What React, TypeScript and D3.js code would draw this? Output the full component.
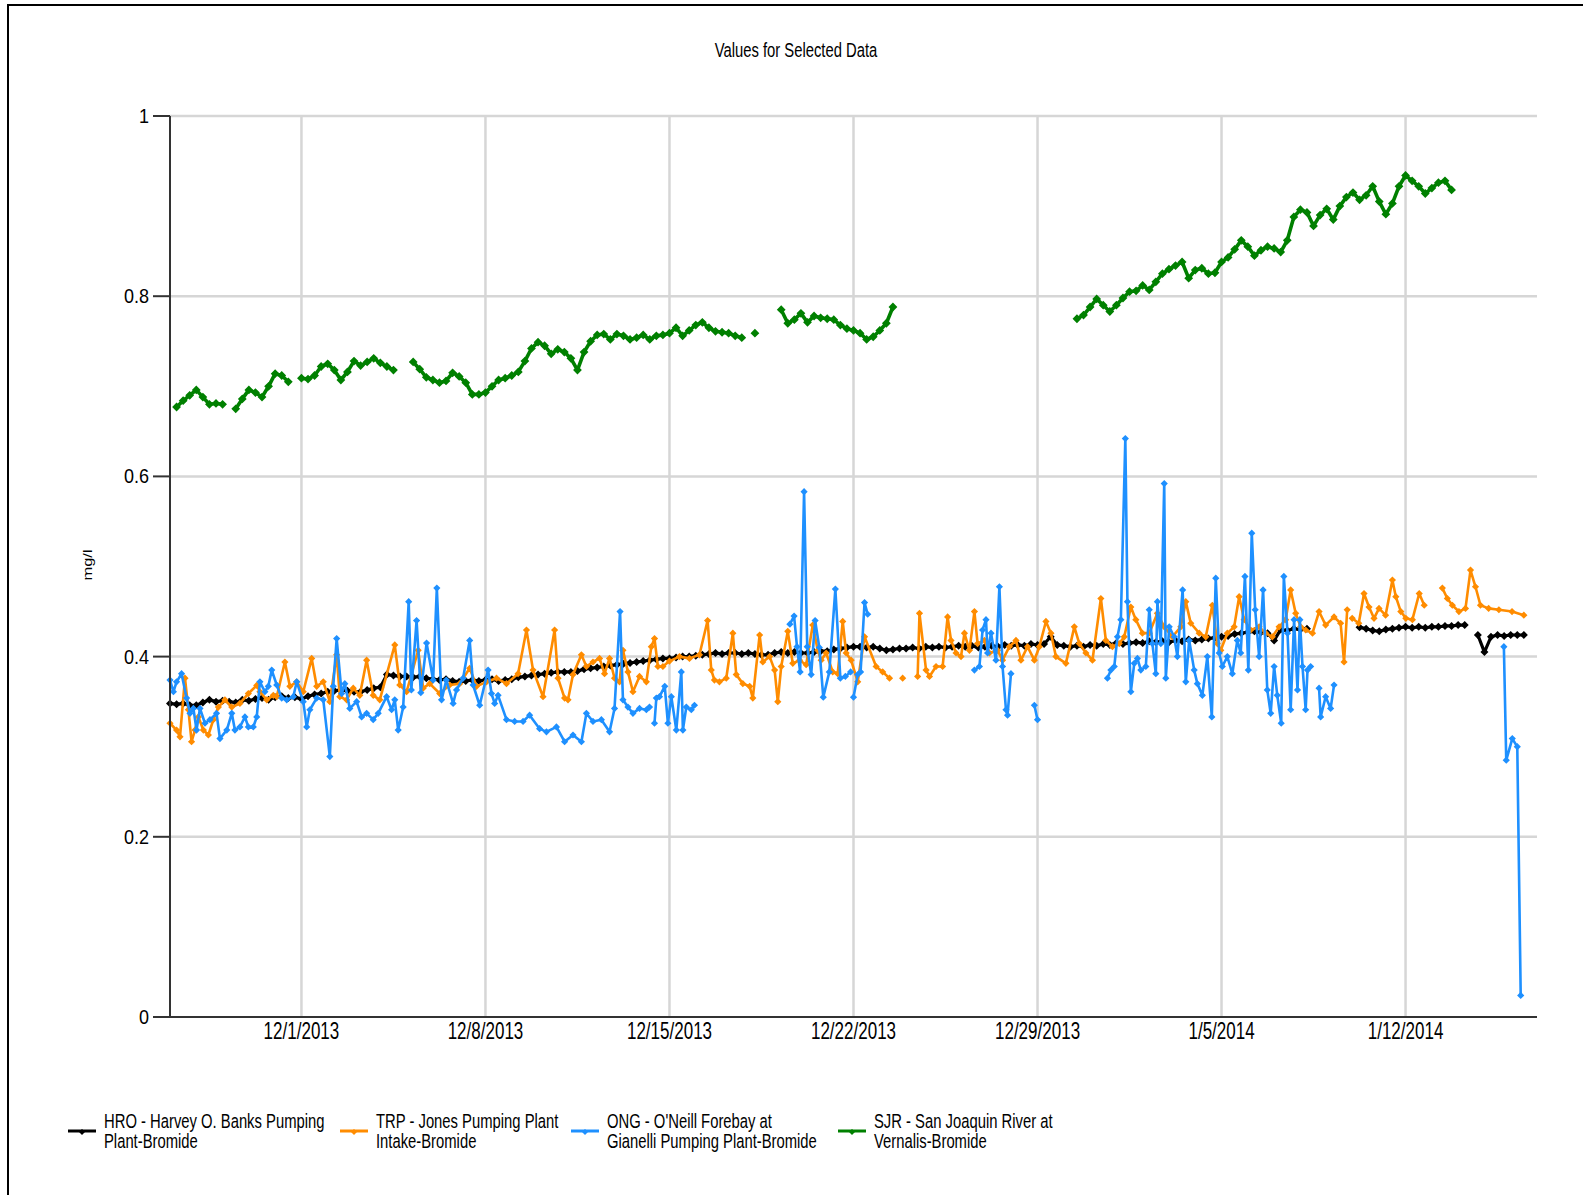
import React from "react";
import * as d3 from "d3";

// ---------------- data ----------------
const periodStart = new Date(2013, 10, 26);
const periodEnd = new Date(2014, 0, 17);
const STEP = 0.25; // days between readings for the regular series

const chartTitle = "Values for Selected Data";
const yAxisTitle = "mg/l";
const seriesNames: string[][] = [
  ["HRO - Harvey O. Banks Pumping", "Plant-Bromide"],
  ["TRP - Jones Pumping Plant", "Intake-Bromide"],
  ["ONG - O'Neill Forebay at", "Gianelli Pumping Plant-Bromide"],
  ["SJR - San Joaquin River at", "Vernalis-Bromide"],
];
const seriesColors = ["#000000", "#FF8C00", "#1E90FF", "#008000"];
const yTicks = [0, 0.2, 0.4, 0.6, 0.8, 1];
const yTickLabels = ["0", "0.2", "0.4", "0.6", "0.8", "1"];

// HRO (black), regular readings, [startDay, values]
const hroSeg1: number[] = [
  0.348, 0.347, 0.348, 0.346, 0.346,
  0.349, 0.352, 0.35, 0.351,
  0.35, 0.349, 0.352, 0.351,
  0.353, 0.354, 0.352, 0.355,
  0.356, 0.354, 0.355, 0.353,
  0.356, 0.358, 0.359, 0.361,
  0.362, 0.363, 0.362, 0.361,
  0.361, 0.363, 0.365, 0.366,
  0.38, 0.379, 0.378, 0.378,
  0.377, 0.378, 0.376, 0.375,
  0.374, 0.375, 0.373, 0.372,
  0.373, 0.374, 0.373, 0.374,
  0.375, 0.373, 0.374, 0.375,
  0.377, 0.378, 0.379, 0.38,
  0.381, 0.382, 0.383, 0.383,
  0.383, 0.384, 0.386, 0.387,
  0.388, 0.389, 0.39, 0.391,
  0.392, 0.393, 0.394, 0.395,
  0.396, 0.397, 0.398, 0.398,
  0.399, 0.4, 0.4, 0.401,
  0.402, 0.403, 0.404, 0.403,
  0.404, 0.404, 0.403, 0.404,
  0.403, 0.402, 0.402, 0.404,
  0.405, 0.404, 0.405, 0.404,
  0.404, 0.405, 0.406, 0.406,
  0.408, 0.409, 0.41, 0.411,
  0.411, 0.41, 0.411, 0.409,
  0.407, 0.408, 0.409, 0.409,
  0.41, 0.409, 0.411, 0.41,
  0.411, 0.41, 0.411, 0.412,
  0.411, 0.412, 0.41, 0.411,
  0.412, 0.411, 0.413, 0.412,
  0.413, 0.412, 0.414, 0.413,
  0.414, 0.422, 0.413, 0.412,
  0.411, 0.412, 0.411, 0.413,
  0.412, 0.414, 0.413, 0.415,
  0.414, 0.415, 0.416, 0.415,
  0.417, 0.416, 0.417, 0.416,
  0.418, 0.417, 0.419, 0.418,
  0.419, 0.42, 0.421, 0.422,
  0.423, 0.425, 0.426, 0.427,
  0.428, 0.427, 0.426, 0.418,
  0.43, 0.429, 0.431, 0.43,
  0.431,
];
const hroSeg2: number[] = [
  0.4325, 0.431, 0.429, 0.428, 0.43, 0.431, 0.432, 0.433, 0.432, 0.433, 0.432, 0.433,
  0.433, 0.434, 0.434, 0.435, 0.435,
];
const hroSeg3: number[] = [0.424, 0.405, 0.422, 0.424, 0.423, 0.424, 0.424, 0.424];
const hroSegments: [number, number[]][] = [[0, hroSeg1], [45.25, hroSeg2], [49.75, hroSeg3]];

// SJR (green), regular readings
const sjrSegA = [0.677, 0.684, 0.69, 0.696, 0.688, 0.68, 0.681, 0.68];
const sjrSegB = [0.675, 0.686, 0.696, 0.693, 0.688, 0.7, 0.714, 0.712, 0.705];
const sjrSegC = [0.709, 0.708, 0.712, 0.722, 0.725, 0.718, 0.707, 0.716, 0.728, 0.723, 0.727, 0.731, 0.726, 0.722, 0.718];
const sjrSegD = [
  0.727, 0.719, 0.71, 0.707, 0.704, 0.706, 0.715, 0.711, 0.704, 0.691, 0.691, 0.693, 0.7, 0.707, 0.709, 0.712,
  0.716, 0.728, 0.742, 0.749, 0.745, 0.736, 0.741, 0.738, 0.731, 0.718, 0.738, 0.75, 0.757, 0.758, 0.752, 0.758,
  0.756, 0.752, 0.754, 0.757, 0.752, 0.756, 0.757, 0.759, 0.765, 0.756, 0.762, 0.768, 0.771, 0.765, 0.761, 0.76,
  0.759, 0.756, 0.754,
];
const sjrSegLone = [0.759];
const sjrSegE = [0.785, 0.77, 0.774, 0.781, 0.771, 0.778, 0.776, 0.775, 0.774, 0.768, 0.764, 0.762, 0.759, 0.752, 0.755, 0.762, 0.77, 0.788];
const sjrSegF = [
  0.775, 0.779, 0.788, 0.797, 0.79, 0.783, 0.79, 0.798, 0.805, 0.806,
  0.812, 0.807, 0.816, 0.825, 0.83, 0.834, 0.838, 0.82, 0.829, 0.831,
  0.825, 0.826, 0.838, 0.843, 0.852, 0.862, 0.855, 0.845, 0.851, 0.855,
  0.853, 0.849, 0.862, 0.888, 0.896, 0.893, 0.878, 0.89, 0.897, 0.885,
  0.9, 0.91, 0.915, 0.907, 0.912, 0.922, 0.905, 0.891, 0.903, 0.922,
  0.934, 0.928, 0.922, 0.914, 0.92, 0.926, 0.928, 0.918,
];
const sjrSegments: [number, number[]][] = [
  [0.25, sjrSegA], [2.5, sjrSegB], [5.0, sjrSegC], [9.25, sjrSegD], [22.25, sjrSegLone], [23.25, sjrSegE], [34.5, sjrSegF],
];

// TRP (orange), [day, value]; null = gap
const trpPoints: [number, number | null][] = [
  [0, 0.326], [0.25, 0.3185], [0.38, 0.311], [0.57, 0.376], [0.7, 0.341], [0.82, 0.3055], [0.95, 0.3185], [1.08, 0.333],
  [1.27, 0.3185], [1.46, 0.313], [1.65, 0.33], [1.84, 0.344], [2.09, 0.352], [2.35, 0.344], [2.66, 0.348], [2.98, 0.359],
  [3.3, 0.368], [3.42, 0.361], [3.68, 0.352], [3.93, 0.357], [4.06, 0.3555], [4.37, 0.394], [4.56, 0.367], [4.82, 0.372],
  [5.07, 0.361], [5.39, 0.398], [5.58, 0.367], [5.83, 0.372], [6.08, 0.35], [6.34, 0.402], [6.46, 0.3555], [6.72, 0.352],
  [6.97, 0.365], [7.22, 0.357], [7.48, 0.396], [7.73, 0.357], [7.98, 0.352], [8.55, 0.413], [8.74, 0.3685], [9.0, 0.361],
  [9.44, 0.407], [9.63, 0.365], [9.88, 0.37], [10.26, 0.359], [10.64, 0.3685], [11.02, 0.37], [11.4, 0.387], [11.66, 0.367],
  [12.04, 0.372], [12.42, 0.376], [12.8, 0.37], [13.24, 0.381], [13.56, 0.4295], [13.81, 0.385], [14.19, 0.3555],
  [14.63, 0.4295], [14.76, 0.376], [15.01, 0.354], [15.14, 0.352], [15.33, 0.38], [15.65, 0.402], [15.84, 0.389],
  [16.09, 0.394], [16.34, 0.398], [16.53, 0.381], [16.72, 0.398], [16.91, 0.376], [17.1, 0.372], [17.23, 0.407],
  [17.42, 0.383], [17.61, 0.361], [17.86, 0.378], [18.12, 0.372], [18.31, 0.411], [18.43, 0.42], [18.56, 0.389],
  [18.75, 0.389], [19.0, 0.395], [19.38, 0.4], [19.76, 0.398], [20.14, 0.402], [20.45, 0.44], [20.59, 0.385],
  [20.71, 0.374], [20.9, 0.372], [21.16, 0.376], [21.41, 0.426], [21.54, 0.38], [21.79, 0.37], [22.05, 0.367],
  [22.17, 0.354], [22.43, 0.424], [22.55, 0.394], [22.81, 0.4], [23.0, 0.385], [23.12, 0.35], [23.25, 0.389],
  [23.5, 0.428], [23.69, 0.3925], [23.95, 0.396], [24.2, 0.391], [24.45, 0.435], [24.64, 0.407], [24.77, 0.396],
  [24.96, 0.404], [25.21, 0.383], [25.4, 0.381], [25.59, 0.439], [25.72, 0.404], [25.91, 0.396], [26.16, 0.372],
  [26.42, 0.422], [26.86, 0.389], [27.11, 0.383], [27.37, 0.376], [27.5, null], [27.87, 0.376], [28.1, null],
  [28.44, 0.378], [28.51, 0.448], [28.76, 0.385], [28.89, 0.378], [29.14, 0.389], [29.39, 0.389], [29.58, 0.444],
  [29.71, 0.418], [29.9, 0.404], [30.09, 0.4], [30.22, 0.426], [30.41, 0.407], [30.6, 0.45], [30.72, 0.4145],
  [30.98, 0.418], [31.17, 0.404], [31.48, 0.407], [31.67, 0.396], [31.93, 0.411], [32.18, 0.418], [32.37, 0.396],
  [32.62, 0.411], [32.88, 0.396], [33.07, 0.411], [33.32, 0.439], [33.51, 0.426], [33.7, 0.4], [34.08, 0.3925],
  [34.4, 0.433], [34.59, 0.4145], [34.84, 0.404], [35.09, 0.396], [35.41, 0.4645], [35.6, 0.418], [35.85, 0.411],
  [36.11, 0.4145], [36.3, 0.422], [36.55, 0.455], [36.74, 0.441], [36.99, 0.426], [37.25, 0.426], [37.56, 0.448],
  [37.82, 0.433], [38.13, 0.422], [38.45, 0.433], [38.64, 0.461], [38.83, 0.437], [39.15, 0.426], [39.4, 0.422],
  [39.65, 0.457], [39.84, 0.4145], [39.97, 0.407], [40.22, 0.426], [40.48, 0.433], [40.67, 0.4665], [40.86, 0.441],
  [41.11, 0.4295], [41.43, 0.433], [41.68, 0.426], [41.93, 0.422], [42.19, 0.433], [42.44, 0.441], [42.63, 0.474],
  [42.82, 0.448], [43.01, 0.433], [43.2, 0.4295], [43.46, 0.426], [43.71, 0.45], [43.96, 0.435], [44.28, 0.444],
  [44.53, 0.437], [44.66, 0.394], [44.78, 0.452], [44.88, null], [44.97, 0.4425], [45.22, 0.437], [45.42, 0.47],
  [45.61, 0.455], [45.8, 0.4425], [45.99, 0.4535], [46.24, 0.446], [46.5, 0.485], [46.63, 0.4665], [46.82, 0.45],
  [47.01, 0.4425], [47.26, 0.441], [47.52, 0.47], [47.71, 0.457], [48.0, null], [48.4, 0.476], [48.59, 0.4645],
  [48.78, 0.457], [49.03, 0.45], [49.28, 0.4535], [49.47, 0.496], [49.66, 0.4775], [49.85, 0.457], [50.16, 0.4535],
  [50.55, 0.452], [51.05, 0.45], [51.5, 0.446],
];

// ONG (blue), [day, value]; null = gap
const ongPoints: [number, number | null][] = [
  [0, 0.374], [0.13, 0.361], [0.25, 0.372], [0.44, 0.381], [0.63, 0.354], [0.76, 0.337], [0.89, 0.3425], [1.01, 0.3185],
  [1.14, 0.3425], [1.33, 0.326], [1.52, 0.33], [1.77, 0.337], [1.9, 0.309], [2.16, 0.3185], [2.35, 0.337], [2.47, 0.3185],
  [2.66, 0.322], [2.85, 0.333], [2.98, 0.322], [3.17, 0.322], [3.3, 0.333], [3.42, 0.372], [3.61, 0.361], [3.74, 0.367],
  [3.87, 0.385], [4.06, 0.3685], [4.25, 0.354], [4.44, 0.352], [4.69, 0.3555], [4.82, 0.372], [5.07, 0.35], [5.2, 0.322],
  [5.32, 0.341], [5.58, 0.354], [5.83, 0.352], [6.08, 0.289], [6.21, 0.367], [6.34, 0.42], [6.53, 0.359], [6.65, 0.37],
  [6.84, 0.3425], [7.1, 0.35], [7.29, 0.333], [7.48, 0.337], [7.73, 0.33], [7.92, 0.337], [8.24, 0.3555], [8.43, 0.341],
  [8.55, 0.352], [8.68, 0.3185], [8.87, 0.344], [9.08, 0.461], [9.18, 0.363], [9.38, 0.44], [9.54, 0.36], [9.76, 0.415],
  [10.01, 0.374], [10.15, 0.476], [10.33, 0.352], [10.51, 0.374], [10.77, 0.348], [10.9, 0.363], [11.15, 0.376],
  [11.4, 0.418], [11.53, 0.3685], [11.78, 0.346], [12.1, 0.385], [12.23, 0.359], [12.35, 0.348], [12.48, 0.357],
  [12.8, 0.33], [13.11, 0.328], [13.43, 0.328], [13.68, 0.335], [14.06, 0.32], [14.32, 0.3165], [14.7, 0.322],
  [15.01, 0.3055], [15.33, 0.313], [15.65, 0.3055], [15.84, 0.337], [16.09, 0.328], [16.41, 0.33], [16.72, 0.3165],
  [16.91, 0.3425], [17.12, 0.45], [17.23, 0.352], [17.42, 0.344], [17.61, 0.337], [17.86, 0.3425], [18.12, 0.341],
  [18.24, 0.344], [18.33, null], [18.43, 0.326], [18.5, 0.354], [18.62, 0.3555], [18.82, 0.367], [18.94, 0.326],
  [19.07, 0.3555], [19.26, 0.3185], [19.45, 0.383], [19.51, 0.3185], [19.64, 0.344], [19.83, 0.341], [19.95, 0.346],
  [20.5, null],
  [23.58, 0.436], [23.74, 0.445], [23.85, 0.411], [23.97, 0.383], [24.12, 0.583], [24.24, 0.411], [24.39, 0.38],
  [24.54, 0.44], [24.7, 0.41], [24.85, 0.355], [25.08, 0.383], [25.31, 0.475], [25.5, 0.376], [25.69, 0.378],
  [25.89, 0.383], [25.95, null], [26.0, 0.355], [26.16, 0.38], [26.27, 0.383], [26.42, 0.46], [26.54, 0.447], [27.0, null],
  [30.6, 0.385], [30.79, 0.389], [30.91, 0.4295], [31.04, 0.441], [31.1, 0.404], [31.23, 0.426], [31.42, 0.396],
  [31.55, 0.4775], [31.67, 0.389], [31.8, 0.341], [31.86, 0.335], [31.99, 0.381], [32.5, null], [32.88, 0.346],
  [33.0, 0.33], [33.5, null],
  [35.66, 0.376], [35.79, 0.385], [35.92, 0.389], [36.04, 0.422], [36.17, 0.441], [36.34, 0.642], [36.42, 0.461],
  [36.55, 0.361], [36.68, 0.3925], [36.8, 0.398], [36.93, 0.385], [37.12, 0.389], [37.25, 0.452], [37.37, 0.4145],
  [37.5, 0.381], [37.56, 0.461], [37.69, 0.4145], [37.82, 0.592], [37.88, 0.376], [38.01, 0.433], [38.2, 0.422],
  [38.32, 0.4], [38.52, 0.474], [38.64, 0.372], [38.77, 0.418], [38.96, 0.385], [39.08, 0.37], [39.27, 0.357],
  [39.46, 0.4], [39.63, 0.333], [39.78, 0.487], [39.91, 0.404], [40.03, 0.389], [40.22, 0.4], [40.41, 0.381],
  [40.6, 0.418], [40.73, 0.404], [40.89, 0.489], [41.02, 0.385], [41.15, 0.537], [41.28, 0.452], [41.43, 0.4],
  [41.58, 0.474], [41.74, 0.363], [41.87, 0.337], [42.0, 0.389], [42.12, 0.357], [42.27, 0.326], [42.37, 0.489],
  [42.51, 0.426], [42.63, 0.341], [42.76, 0.441], [42.89, 0.363], [42.98, 0.441], [43.08, 0.389], [43.2, 0.341],
  [43.27, 0.385], [43.39, 0.389], [43.55, null], [43.71, 0.365], [43.77, 0.333], [43.96, 0.3555], [44.15, 0.3425],
  [44.28, 0.3685], [44.5, null],
  [50.74, 0.411], [50.83, 0.285], [51.06, 0.309], [51.25, 0.3], [51.38, 0.024],
];

// ---------------- helpers ----------------
type Pt = { date: Date; v: number | null };
const toDate = (day: number) => new Date(periodStart.getTime() + day * 86400000);

function fromSegments(segs: [number, number[]][]): Pt[] {
  const out: Pt[] = [];
  segs.forEach(([start, vals], si) => {
    if (si > 0) out.push({ date: toDate(start - STEP / 2), v: null });
    vals.forEach((v, i) => out.push({ date: toDate(start + i * STEP), v }));
  });
  return out;
}
const fromPairs = (pairs: [number, number | null][]): Pt[] => pairs.map(([d, v]) => ({ date: toDate(d), v }));

const seriesData: Pt[][] = [
  fromSegments(hroSegments),
  fromPairs(trpPoints),
  fromPairs(ongPoints),
  fromSegments(sjrSegments),
];
const seriesStroke = [3.2, 2.6, 2.6, 3.6];
const seriesMarker = [4, 3.6, 3.6, 4.4];

const FONT = "'Liberation Sans', Arial, Helvetica, sans-serif";

function SText(props: { x: number; y: number; size: number; sx: number; anchor?: string; rotate?: number; children: any }) {
  const { x, y, size, sx, anchor = "start", rotate, children } = props;
  const t = rotate
    ? `translate(${x},${y}) rotate(${rotate}) scale(1,${sx})`
    : `translate(${x},${y}) scale(${sx},1)`;
  return (
    <text transform={t} fontSize={size} textAnchor={anchor as any} fontFamily={FONT} fill="#000">
      {children}
    </text>
  );
}

const diamond = (x: number, y: number, r: number) => `M${x},${y - r}L${x + r},${y}L${x},${y + r}L${x - r},${y}Z`;

export default function App() {
  const W = 1583, H = 1195;
  const plot = { left: 170, right: 1537, top: 116, bottom: 1017 };

  const x = d3.scaleTime().domain([periodStart, periodEnd]).range([plot.left, plot.right]);
  const y = d3.scaleLinear().domain([0, 1]).range([plot.bottom, plot.top]);
  const xTicks = x.ticks(d3.timeWeek.every(1) as any);
  const fmt = d3.timeFormat("%-m/%-d/%Y");

  const line = d3
    .line<Pt>()
    .defined((d) => d.v !== null)
    .x((d) => x(d.date))
    .y((d) => y(d.v as number));

  const legendX = [68, 340, 571, 838];

  return (
    <svg width={W} height={H} style={{ position: "fixed", left: 0, top: 0, background: "#fff" }}>
      <rect x={0} y={0} width={W} height={H} fill="#fff" />
      <rect x={8} y={5} width={W + 40} height={H + 40} fill="none" stroke="#000" strokeWidth={2} />

      <SText x={796} y={57} size={19.5} sx={0.76} anchor="middle">{chartTitle}</SText>

      {/* grid */}
      {yTicks.filter((t) => t > 0).map((t) => (
        <line key={"gy" + t} x1={plot.left} x2={plot.right} y1={y(t)} y2={y(t)} stroke="#d6d6d6" strokeWidth={2.5} />
      ))}
      {xTicks.map((t) => (
        <line key={"gx" + t.getTime()} x1={x(t)} x2={x(t)} y1={plot.top} y2={plot.bottom} stroke="#d6d6d6" strokeWidth={2.5} />
      ))}

      {/* series */}
      {seriesData.map((data, si) => (
        <g key={"s" + si}>
          <path d={line(data) || ""} fill="none" stroke={seriesColors[si]} strokeWidth={seriesStroke[si]} strokeLinejoin="round" />
          <path
            d={data.filter((d) => d.v !== null).map((d) => diamond(x(d.date), y(d.v as number), seriesMarker[si])).join("")}
            fill={seriesColors[si]}
          />
        </g>
      ))}

      {/* axes */}
      <line x1={plot.left} x2={plot.left} y1={plot.top} y2={plot.bottom} stroke="#333" strokeWidth={2} />
      <line x1={plot.left} x2={plot.right} y1={plot.bottom} y2={plot.bottom} stroke="#333" strokeWidth={2} />
      {yTicks.map((t, i) => (
        <g key={"yt" + t}>
          <line x1={153} x2={plot.left} y1={y(t)} y2={y(t)} stroke="#333" strokeWidth={2} />
          <SText x={149} y={y(t) + 7} size={20} sx={0.9} anchor="end">{yTickLabels[i]}</SText>
        </g>
      ))}
      {xTicks.map((t) => (
        <SText key={"xl" + t.getTime()} x={x(t)} y={1039} size={23} sx={0.74} anchor="middle">{fmt(t)}</SText>
      ))}

      <SText x={92} y={565} size={16.5} sx={0.8} anchor="middle" rotate={-90}>{yAxisTitle}</SText>

      {/* legend */}
      {seriesNames.map((lines, i) => (
        <g key={"lg" + i}>
          <line x1={legendX[i]} x2={legendX[i] + 28} y1={1131} y2={1131} stroke={seriesColors[i]} strokeWidth={3} />
          <path d={diamond(legendX[i] + 14, 1132, 3)} fill={seriesColors[i]} />
          <SText x={legendX[i] + 36} y={1128} size={19.5} sx={0.76}>{lines[0]}</SText>
          <SText x={legendX[i] + 36} y={1148} size={19.5} sx={0.76}>{lines[1]}</SText>
        </g>
      ))}
    </svg>
  );
}
